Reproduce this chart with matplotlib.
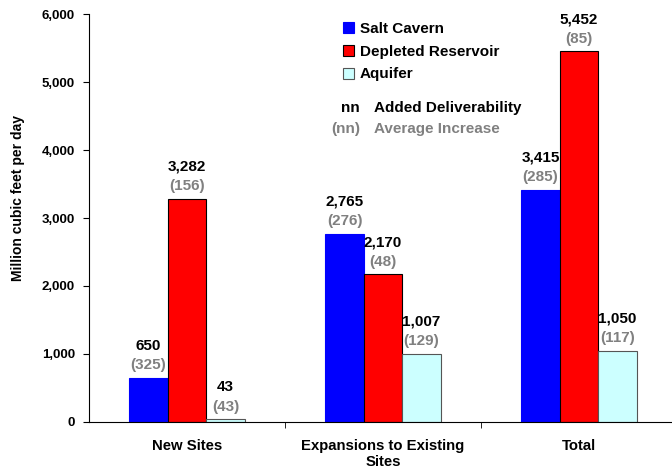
import matplotlib
matplotlib.use("Agg")
import numpy as np
import matplotlib.pyplot as plt
from matplotlib.patches import Patch
from matplotlib.ticker import FuncFormatter

categories = ["New Sites", "Expansions to Existing\nSites", "Total"]
series = ["Salt Cavern", "Depleted Reservoir", "Aquifer"]
salt_cavern = [650, 2765, 3415]
depleted = [3282, 2170, 5452]
aquifer = [43, 1007, 1050]
salt_avg = [325, 276, 285]
depleted_avg = [156, 48, 85]
aquifer_avg = [43, 129, 117]

colors = ["#0000FF", "#FF0000", "#CCFFFF"]
edges = ["#0000FF", "black", "#555555"]
GRAY = "#808080"

plt.rcParams["font.family"] = ["Liberation Sans", "DejaVu Sans"]
plt.rcParams["font.weight"] = "bold"

fig = plt.figure(figsize=(6.72, 4.74), dpi=100)
ax = fig.add_axes([89 / 672, 52 / 474, 583 / 672, 408 / 474])

x = np.arange(len(categories))
w = 0.196
values = [salt_cavern, depleted, aquifer]
avgs = [salt_avg, depleted_avg, aquifer_avg]
for i, (vals, av) in enumerate(zip(values, avgs)):
    pos = x + (i - 1) * w
    ax.bar(pos, vals, width=w, color=colors[i], edgecolor=edges[i],
           linewidth=0.8, zorder=2)
    for px, v, a in zip(pos, vals, av):
        ax.annotate(f"({a})", (px, v), xytext=(0, 4), textcoords="offset points",
                    ha="center", va="bottom", fontsize=11, color=GRAY,
                    fontweight="bold")
        ax.annotate(f"{v:,}", (px, v), xytext=(0, 18), textcoords="offset points",
                    ha="center", va="bottom", fontsize=11, color="black",
                    fontweight="bold")

ax.set_xlim(-0.5, -0.5 + 583 / 196)
ax.set_ylim(0, 6000)
ax.set_yticks(np.arange(0, 6001, 1000))
ax.yaxis.set_major_formatter(FuncFormatter(lambda v, p: f"{int(v):,}"))
ax.set_xticks(x)
ax.set_xticklabels(categories, fontsize=10.75, fontweight="bold")
ax.set_xticks([0.5, 1.5], minor=True)
ax.tick_params(axis="x", which="major", length=0, pad=12)
ax.tick_params(axis="x", which="minor", length=4, direction="out")
ax.tick_params(axis="y", length=4, direction="out", labelsize=9.5, pad=6)
for lab in ax.get_yticklabels():
    lab.set_fontweight("bold")
for s in ["top", "right"]:
    ax.spines[s].set_visible(False)
ax.set_ylabel("Million cubic feet per day", fontsize=10, fontweight="bold")
ax.yaxis.set_label_coords((25 - 89) / 583, (422 - 198) / 408)

handles = [Patch(facecolor=c, edgecolor=e, linewidth=0.8) for c, e in zip(colors, edges)]
fig.legend(handles, series, loc="upper left", bbox_to_anchor=(329 / 672, 1 - 8 / 474),
           frameon=False, handlelength=0.75, handleheight=0.75,
           handletextpad=0.35, labelspacing=0.58, prop={"weight": "bold", "size": 11})

fig.text(360 / 672, 1 - 108 / 474, "nn", ha="right", va="center", fontsize=11,
         fontweight="bold", color="black")
fig.text(374 / 672, 1 - 108 / 474, "Added Deliverability", ha="left", va="center",
         fontsize=11, fontweight="bold", color="black")
fig.text(360 / 672, 1 - 129 / 474, "(nn)", ha="right", va="center", fontsize=11,
         fontweight="bold", color=GRAY)
fig.text(374 / 672, 1 - 129 / 474, "Average Increase", ha="left", va="center",
         fontsize=11, fontweight="bold", color=GRAY)

fig.savefig("out.png", dpi=100)
